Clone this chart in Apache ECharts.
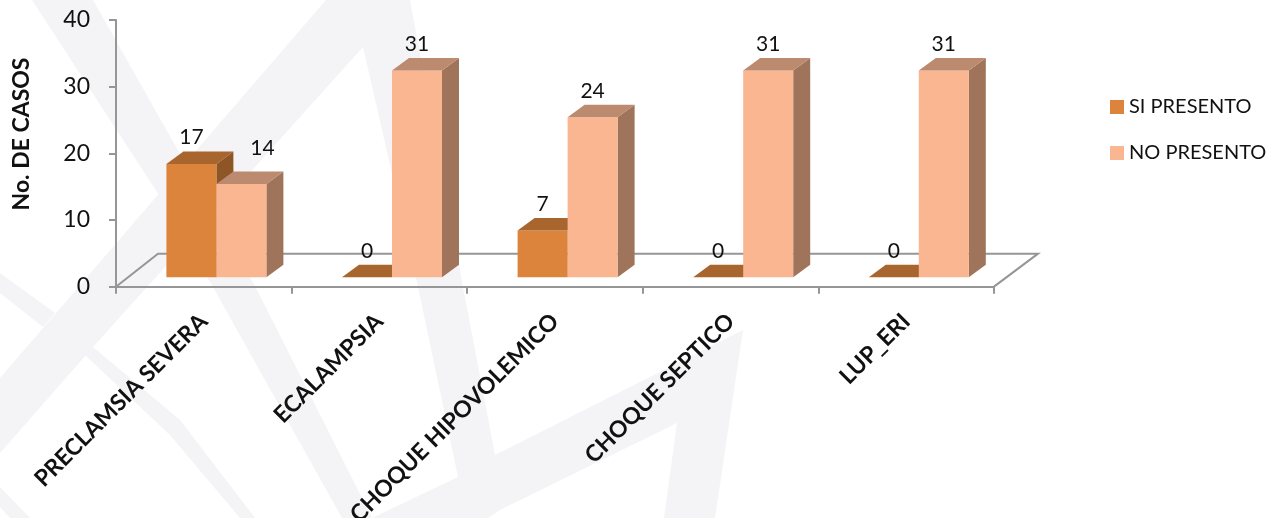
<!DOCTYPE html>
<html><head><meta charset="utf-8">
<style>html,body{margin:0;padding:0;background:#fff}#c{width:1270px;height:518px}</style>
<script src="https://cdn.jsdelivr.net/npm/echarts@6/dist/echarts.min.js"></script>
</head><body><div id="c"></div>
<script>
const categories = ['PRECLAMSIA SEVERA','ECALAMPSIA','CHOQUE HIPOVOLEMICO','CHOQUE SEPTICO','LUP_ERI'];
const siPresento = [17,0,7,0,0];
const noPresento = [14,31,24,31,31];
const seriesNames = ['SI PRESENTO','NO PRESENTO'];
const FONT = 'Lato, Carlito, sans-serif';
const wm = '#f4f4f6';
const watermark = [
  [[32,0],[93,0],[257,290],[353,480],[372,518],[342,518],[213,287],[157,192]],
  [[326,0],[410,0],[463,287],[495,455],[743,330],[715,518],[664,518],[677,423],[500,510],[488,518],[372,518],[458,477],[418,287],[363,47],[93,347],[0,453],[0,378]],
  [[0,273],[55,313],[43,327],[0,293]],
  [[93,347],[180,420],[255,518],[240,518],[170,435],[85,355]],
  [[0,487],[30,518],[10,518],[0,507]]
];
const palette = [
  {front:'#dc843c',top:'#a8652e',side:'#8e5626'},
  {front:'#fab690',top:'#bc8a6e',side:'#a0745a'}
];
const BAR=50, SHIFT_X=12.6, SHIFT_Y=-9.4, DX=17, DY=-12.5;
function barSeries(idx, values){
  return {
    name: seriesNames[idx], type:'custom', clip:false, z:3,
    itemStyle:{color:palette[idx].front},
    encode:{x:0,y:1},
    data: values.map((v,i)=>[i,v]),
    renderItem(params, api){
      const i=api.value(0), v=api.value(1);
      const t=api.coord([i,v]), b=api.coord([i,0]);
      const x0=t[0]+SHIFT_X+(idx===0?-BAR:0), x1=x0+BAR;
      const yb=b[1]+SHIFT_Y, yt=t[1]+SHIFT_Y;
      const c=palette[idx], kids=[];
      const poly=(pts,fill)=>({type:'polygon',shape:{points:pts},style:{fill}});
      if(v>0){
        kids.push(poly([[x1,yt],[x1+DX,yt+DY],[x1+DX,yb+DY],[x1,yb]],c.side));
        kids.push(poly([[x0,yt],[x1,yt],[x1,yb],[x0,yb]],c.front));
      }
      kids.push(poly([[x0,yt],[x1,yt],[x1+DX,yt+DY],[x0+DX,yt+DY]],c.top));
      // a label that would sit on its taller neighbour is moved clear of it
      const clash = idx===1 && v>0 && siPresento[i]>v;
      kids.push({type:'text',style:{text:String(v),x:(x0+x1)/2+(clash?21:0),y:yt+DY-(clash?23:14),align:'center',verticalAlign:'middle',font:'21px '+FONT,fill:'#111'}});
      return {type:'group',children:kids};
    }
  };
}
const chart = echarts.init(document.getElementById('c'));
chart.setOption({
  animation:false,
  backgroundColor:'#fff',
  textStyle:{fontFamily:FONT},
  graphic:[
    ...watermark.map(p=>({type:'polygon',z:-10,silent:true,shape:{points:p},style:{fill:wm}})),
    {type:'text',z:5,x:22,y:134,rotation:Math.PI/2,style:{text:'No. DE CASOS',align:'center',verticalAlign:'middle',font:'bold 23px '+FONT,fill:'#111'}}
  ],
  grid:{left:116,top:20,width:878,height:266.67,outerBoundsMode:'none'},
  legend:{
    left:1105, top:92, orient:'vertical', itemWidth:14, itemHeight:14, itemGap:26,
    icon:'rect', data:seriesNames, selectedMode:false,
    textStyle:{fontFamily:FONT,fontSize:20,color:'#111'}
  },
  xAxis:{
    type:'category', data:categories, boundaryGap:true,
    axisLine:{lineStyle:{color:'#969696',width:2}},
    axisTick:{show:true,alignWithLabel:false,length:7,lineStyle:{color:'#969696',width:2}},
    axisLabel:{rotate:45,interval:0,margin:31,fontFamily:FONT,fontWeight:'bold',fontSize:23,color:'#111'}
  },
  yAxis:{
    type:'value', min:0, max:40, interval:10,
    splitLine:{show:false},
    axisLine:{show:true,lineStyle:{color:'#969696',width:2}},
    axisTick:{show:true,length:7,lineStyle:{color:'#969696',width:2}},
    axisLabel:{margin:26,padding:[4,0,0,0],fontFamily:FONT,fontSize:23,color:'#111'}
  },
  series:[
    {type:'custom',name:'floor',silent:true,z:1,clip:false,data:[[0,0]],encode:{x:0,y:1},
     renderItem(params,api){
       const s=params.coordSys, y0=s.y+s.height, x0=s.x, x1=s.x+s.width;
       return {type:'polyline',shape:{points:[[x0,y0],[x0+42,y0-33],[x1+44,y0-33],[x1,y0]]},style:{fill:null,stroke:'#969696',lineWidth:2}};
     }},
    barSeries(0,siPresento),
    barSeries(1,noPresento)
  ]
});
</script></body></html>
